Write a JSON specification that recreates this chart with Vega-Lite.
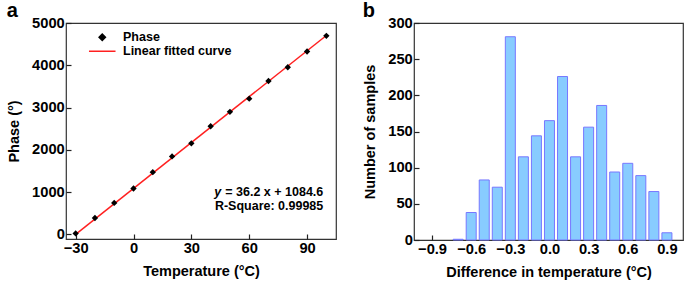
{
  "$schema": "https://vega.github.io/schema/vega-lite/v6.json",
  "padding": {"left": 6, "top": 0, "right": 0, "bottom": 0},
  "spacing": 25,
  "config": {
    "font": "Liberation Sans",
    "view": {"stroke": "#333333", "strokeWidth": 1.2},
    "axis": {
      "domain": false,
      "grid": false,
      "tickSize": -5,
      "tickColor": "#222222",
      "tickWidth": 1.2,
      "labelFont": "Liberation Sans",
      "labelFontSize": 14.7,
      "labelFontWeight": "bold",
      "labelColor": "black",
      "labelPadding": 6.7,
      "titleFont": "Liberation Sans",
      "titleFontSize": 14.5,
      "titleFontWeight": "bold",
      "titleColor": "black",
      "titlePadding": 9
    },
    "axisY": {"titlePadding": 10},
    "title": {"fontSize": 20, "fontWeight": "bold", "anchor": "start", "frame": "bounds", "offset": -6, "color": "black"}
  },
  "hconcat": [
    {
      "title": "a",
      "width": 270,
      "height": 216,
      "layer": [
        {
          "data": {"values": [
            {"t": -30, "phase": -1.4, "series": "Linear fitted curve"},
            {"t": 100, "phase": 4704.6, "series": "Linear fitted curve"}
          ]},
          "mark": {"type": "line", "strokeWidth": 1.5},
          "encoding": {
            "x": {"field": "t", "type": "quantitative", "scale": {"domain": [-35, 105], "nice": false, "zero": false}, "axis": {"values": [-30, 0, 30, 60, 90], "format": "d", "title": "Temperature (°C)"}},
            "y": {"field": "phase", "type": "quantitative", "scale": {"domain": [-110, 5000], "nice": false, "zero": false}, "axis": {"values": [0, 1000, 2000, 3000, 4000, 5000], "format": "d", "title": "Phase (°)"}},
            "color": {"field": "series", "type": "nominal", "scale": {"domain": ["Phase", "Linear fitted curve"], "range": ["black", "#ff2020"]},
              "legend": {
                "title": null, "orient": "none", "legendX": 30, "legendY": 8,
                "labelFont": "Liberation Sans", "labelFontSize": 12.5, "labelFontWeight": "bold", "labelColor": "black",
                "symbolSize": 40, "labelOffset": 14.5, "rowPadding": 1, "padding": 0,
                "encode": {"symbols": {"update": {
                  "shape": {"signal": "datum.value === 'Phase' ? 'diamond' : 'M-4.2,0H4.2'"},
                  "fill": {"signal": "datum.value === 'Phase' ? 'black' : 'transparent'"},
                  "stroke": {"signal": "datum.value === 'Phase' ? 'transparent' : '#ff2020'"},
                  "strokeWidth": {"value": 1.5},
                  "opacity": {"value": 1}
                }}}
              }}
          }
        },
        {
          "data": {"values": [
            {"t": -30, "phase": 22, "series": "Phase"},
            {"t": -20, "phase": 387, "series": "Phase"},
            {"t": -10, "phase": 743, "series": "Phase"},
            {"t": 0, "phase": 1085, "series": "Phase"},
            {"t": 10, "phase": 1472, "series": "Phase"},
            {"t": 20, "phase": 1844, "series": "Phase"},
            {"t": 30, "phase": 2154, "series": "Phase"},
            {"t": 40, "phase": 2557, "series": "Phase"},
            {"t": 50, "phase": 2898, "series": "Phase"},
            {"t": 60, "phase": 3209, "series": "Phase"},
            {"t": 70, "phase": 3627, "series": "Phase"},
            {"t": 80, "phase": 3953, "series": "Phase"},
            {"t": 90, "phase": 4325, "series": "Phase"},
            {"t": 100, "phase": 4697, "series": "Phase"}
          ]},
          "mark": {"type": "point", "shape": "diamond", "filled": true, "size": 40, "opacity": 1},
          "encoding": {
            "x": {"field": "t", "type": "quantitative"},
            "y": {"field": "phase", "type": "quantitative"},
            "color": {"field": "series", "type": "nominal"}
          }
        },
        {
          "data": {"values": [{"label": "y"}]},
          "mark": {"type": "text", "align": "left", "baseline": "middle", "fontStyle": "italic", "fontWeight": "bold", "fontSize": 12.5, "font": "Liberation Sans", "color": "black"},
          "encoding": {
            "x": {"datum": 41.9, "type": "quantitative"},
            "y": {"datum": 1000, "type": "quantitative"},
            "text": {"field": "label"}
          }
        },
        {
          "data": {"values": [{"label": "= 36.2 x + 1084.6"}]},
          "mark": {"type": "text", "align": "right", "baseline": "middle", "fontWeight": "bold", "fontSize": 12.5, "font": "Liberation Sans", "color": "black"},
          "encoding": {
            "x": {"datum": 98.4, "type": "quantitative"},
            "y": {"datum": 1000, "type": "quantitative"},
            "text": {"field": "label"}
          }
        },
        {
          "data": {"values": [{"label": "R-Square: 0.99985"}]},
          "mark": {"type": "text", "align": "right", "baseline": "middle", "fontWeight": "bold", "fontSize": 12.5, "font": "Liberation Sans", "color": "black"},
          "encoding": {
            "x": {"datum": 98.4, "type": "quantitative"},
            "y": {"datum": 669, "type": "quantitative"},
            "text": {"field": "label"}
          }
        }
      ]
    },
    {
      "title": "b",
      "width": 269,
      "height": 217,
      "data": {"values": [
        {"diff": -0.7, "count": 1},
        {"diff": -0.6, "count": 38},
        {"diff": -0.5, "count": 83},
        {"diff": -0.4, "count": 73},
        {"diff": -0.3, "count": 281},
        {"diff": -0.2, "count": 115},
        {"diff": -0.1, "count": 144},
        {"diff": 0.0, "count": 165},
        {"diff": 0.1, "count": 226},
        {"diff": 0.2, "count": 115},
        {"diff": 0.3, "count": 156},
        {"diff": 0.4, "count": 186},
        {"diff": 0.5, "count": 94},
        {"diff": 0.6, "count": 106},
        {"diff": 0.7, "count": 89},
        {"diff": 0.8, "count": 67},
        {"diff": 0.9, "count": 10}
      ]},
      "mark": {"type": "bar", "size": 10, "fill": "#88ccff", "stroke": "#7777ff", "strokeWidth": 1},
      "encoding": {
        "x": {"field": "diff", "type": "quantitative", "scale": {"domain": [-1.0, 0.985], "nice": false, "zero": false}, "axis": {"values": [-0.9, -0.6, -0.3, 0, 0.3, 0.6, 0.9], "format": ".1f", "title": "Difference in temperature (°C)"}},
        "y": {"field": "count", "type": "quantitative", "scale": {"domain": [0, 300], "nice": false}, "axis": {"values": [0, 50, 100, 150, 200, 250, 300], "title": "Number of samples"}}
      }
    }
  ]
}
